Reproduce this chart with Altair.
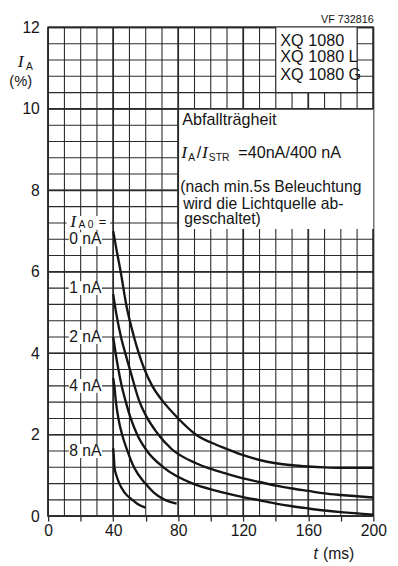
import altair as alt
import pandas as pd

# ---------------- data ----------------
series_names = ["0 nA", "1 nA", "2 nA", "4 nA", "8 nA"]

t_0nA = [40, 42, 44.6, 48, 52.8, 59, 64, 71, 80, 91, 103, 110, 120, 130, 140, 150, 160, 170, 180, 200]
ia_0nA = [7.0, 6.55, 6.0, 5.2, 4.4, 3.63, 3.2, 2.8, 2.4, 2.0, 1.76, 1.65, 1.5, 1.38, 1.3, 1.25, 1.22, 1.2, 1.19, 1.19]

t_1nA = [40, 42, 44.8, 47.8, 51, 55.8, 60.4, 66.9, 75.9, 91, 100, 110, 120, 130, 140, 150, 160, 170, 180, 200]
ia_1nA = [5.45, 4.95, 4.4, 3.95, 3.5, 2.85, 2.45, 2.05, 1.65, 1.3, 1.16, 1.04, 0.93, 0.84, 0.75, 0.68, 0.62, 0.56, 0.52, 0.46]

t_2nA = [40, 41.5, 43.2, 45.2, 47.8, 50.8, 54.8, 60.8, 70.9, 89, 103, 120, 130, 140, 150, 160, 170, 180, 200]
ia_2nA = [4.4, 4.0, 3.6, 3.2, 2.8, 2.4, 2.0, 1.6, 1.2, 0.8, 0.63, 0.47, 0.39, 0.31, 0.245, 0.19, 0.14, 0.1, 0.04]

t_4nA = [40, 40.7, 41.7, 43.2, 45.5, 48.8, 52.8, 59.8, 65, 70.9, 75, 79]
ia_4nA = [3.39, 3.2, 2.8, 2.4, 2.0, 1.6, 1.2, 0.8, 0.58, 0.42, 0.35, 0.31]

t_8nA = [40, 40.5, 40.8, 42, 43.8, 47, 51.8, 55, 59.8]
ia_8nA = [1.67, 1.4, 1.2, 1.0, 0.8, 0.58, 0.4, 0.3, 0.21]

# grid / tick values
grid_t = [0, 10, 20, 30, 40, 50, 60, 70, 80, 90, 100, 110, 120, 130, 140, 150, 160, 170, 180, 190, 200]
grid_ia = [0, 0.4, 0.8, 1.2, 1.6, 2, 2.4, 2.8, 3.2, 3.6, 4, 4.4, 4.8, 5.2, 5.6, 6, 6.4, 6.8, 7.2, 7.6,
           8, 8.4, 8.8, 9.2, 9.6, 10, 10.4, 10.8, 11.2, 11.6, 12]
major_t = [0, 40, 80, 120, 160, 200]
major_ia = [0, 2, 4, 6, 8, 10, 12]
tick_t = [0, 20, 40, 60, 80, 100, 120, 140, 160, 180, 200]

# ---------------- tables built from the lists ----------------
rows = []
for name, ts, ys_ in zip(series_names, [t_0nA, t_1nA, t_2nA, t_4nA, t_8nA],
                         [ia_0nA, ia_1nA, ia_2nA, ia_4nA, ia_8nA]):
    for t, y in zip(ts, ys_):
        rows.append({"series": name, "x": t, "y": y})
curves_df = pd.DataFrame(rows)

# annotation layout (positions in data units)
boxes_df = pd.DataFrame({"x": [140, 80], "x2": [190, 200], "y": [10.4, 7.05], "y2": [12, 10]})
label_y = [6.8, 5.6, 4.4, 3.2, 1.6]
label_bg_df = pd.DataFrame({
    "x": [12.7] * 5 + [11.4], "x2": [33.1] * 5 + [38],
    "y": [v - 0.17 for v in label_y] + [7.03], "y2": [v + 0.17 for v in label_y] + [7.37]})
edges_df = pd.DataFrame({
    "x": [140, 190, 140, 80, 80], "x2": [140, 190, 190, 200, 80],
    "y": [10.4, 10.4, 10.4, 10, 7.05], "y2": [12, 12, 10.4, 10, 10],
    "w": [1.1, 1.1, 1.1, 1.7, 1.7]})

W, H = 332, 499
GRID = "#2a2a2a"
INK = "#151515"
SANS = "Liberation Sans"
SERIF = "Liberation Serif"
xs = alt.Scale(domain=[0, 200], nice=False, zero=False)
ys = alt.Scale(domain=[0, 12], nice=False, zero=False)

AX = alt.Axis(values=tick_t, labelExpr="datum.value % 40 == 0 ? datum.label : ''",
              tickSize=5, tickColor=GRID, tickWidth=1.3, domain=False, grid=False,
              labelFont=SANS, labelFontSize=16, labelColor=INK, labelPadding=2,
              labelFlush=False, labelOverlap=False, labelBound=False, title=None)
AY = alt.Axis(values=major_ia, ticks=False, tickSize=0, domain=False, grid=False,
              labelFont=SANS, labelFontSize=16, labelColor=INK, labelPadding=9,
              labelFlush=False, labelOverlap=False, labelBound=False, title=None)


def X(field="x"):
    return alt.X(f"{field}:Q", scale=xs, axis=AX)


def Y(field="y"):
    return alt.Y(f"{field}:Q", scale=ys, axis=AY)


vgrid = alt.Chart(pd.DataFrame({"x": grid_t})).mark_rule(color=GRID, strokeWidth=1.1).encode(x=X())
hgrid = alt.Chart(pd.DataFrame({"y": grid_ia})).mark_rule(color=GRID, strokeWidth=1.1).encode(y=Y())
vmajor = alt.Chart(pd.DataFrame({"x": major_t})).mark_rule(color=GRID, strokeWidth=1.7).encode(x=X())
hmajor = alt.Chart(pd.DataFrame({"y": major_ia})).mark_rule(color=GRID, strokeWidth=1.7).encode(y=Y())

boxes = alt.Chart(boxes_df).mark_rect(color="white").encode(x=X(), x2="x2", y=Y(), y2="y2")
label_bg = alt.Chart(label_bg_df).mark_rect(color="white").encode(x=X(), x2="x2", y=Y(), y2="y2")
edges = alt.Chart(edges_df).mark_rule(color=GRID).encode(
    x=X(), x2="x2", y=Y(), y2="y2", strokeWidth=alt.StrokeWidth("w:Q", scale=None))

curves = alt.Chart(curves_df).mark_line(color=INK, strokeWidth=2.4, interpolate="monotone").encode(
    x=X(), y=Y(), detail="series:N")


def texts(x, y, text, **kw):
    df = pd.DataFrame({"x": x, "y": y, "text": text})
    base = dict(color=INK, baseline="middle")
    base.update(kw)
    return alt.Chart(df).mark_text(**base).encode(x=X(), y=Y(), text="text:N")


t_types = texts([142.8, 142.8, 142.8], [11.67, 11.26, 10.84],
                ["XQ 1080", "XQ 1080 L", "XQ 1080 G"], align="left", font=SANS, fontSize=16.5)
t_title = texts([82.5, 116.9], [9.72, 8.92], ["Abfallträgheit", "=40nA/400 nA"],
                align="left", font=SANS, fontSize=16.5)
t_note = texts([81.3, 83.1, 83.7], [8.08, 7.67, 7.29],
               ["(nach min.5s Beleuchtung", "wird die Lichtquelle ab-", "geschaltet)"],
               align="left", font=SANS, fontSize=16)
t_slash = texts([92.8], [8.92], ["/"], align="center", font=SANS, fontSize=16.5)
t_I = texts([-16.9, 83.7, 96.4, 15.4], [11.16, 8.92, 8.92, 7.22], ["I", "I", "I", "I"],
            align="center", font=SERIF, fontSize=18, fontStyle="italic")
t_sub = texts([-13.6, 86.1, 98.8, 18.7], [11.02, 8.8, 8.8, 7.15], ["A", "A", "STR", "A 0"],
              align="left", font=SANS, fontSize=10.5)
t_eq = texts([33.4], [7.22], ["="], align="center", font=SANS, fontSize=13)
t_pct = texts([-16.9], [10.68], ["(%)"], align="center", font=SANS, fontSize=15)
t_labels = texts([22.9] * 5, label_y, series_names, align="center", font=SANS, fontSize=16)
t_vf = texts([184], [12.17], ["VF 732816"], align="center", font=SANS, fontSize=11)
t_t = texts([164.5], [-0.93], ["t"], align="center", font=SANS, fontSize=16, fontStyle="italic")
t_ms = texts([169.0], [-0.93], ["(ms)"], align="left", font=SANS, fontSize=16)

chart = alt.layer(
    vgrid, hgrid, vmajor, hmajor, boxes, label_bg, edges, curves,
    t_types, t_title, t_note, t_slash, t_I, t_sub, t_eq, t_pct, t_labels, t_vf, t_t, t_ms
).properties(
    width=W, height=H,
    autosize=alt.AutoSizeParams(type="none"),
    padding={"left": 41, "top": 14, "right": 17, "bottom": 45},
    background="white",
).configure_view(stroke=GRID, strokeWidth=1.7)

chart.save("out.html", embed_options={"renderer": "svg", "actions": False})
